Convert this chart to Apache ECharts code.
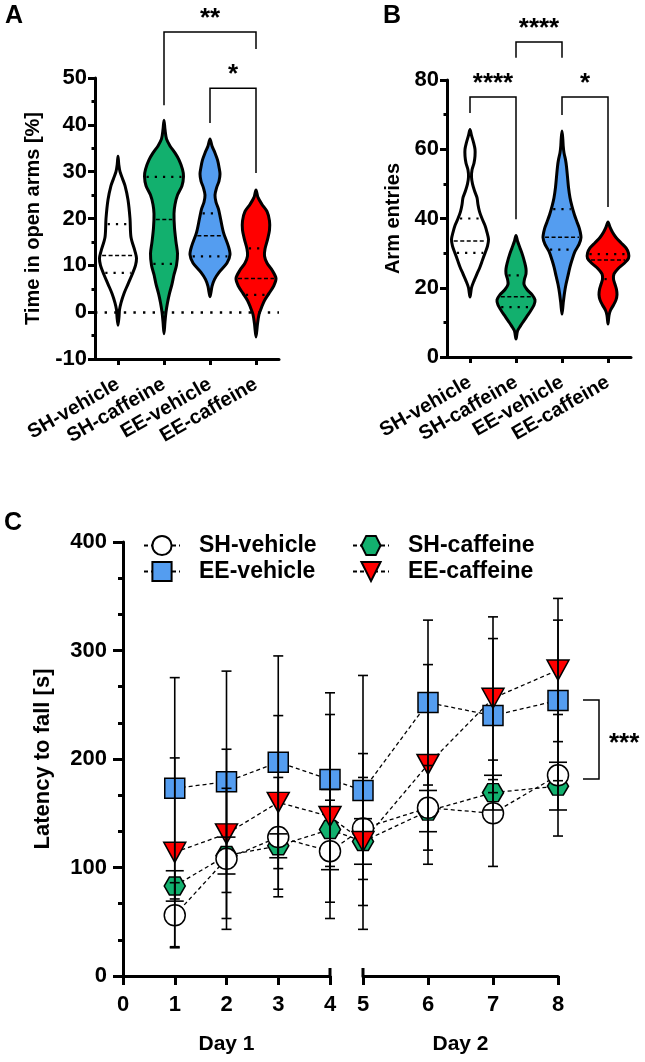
<!DOCTYPE html>
<html><head><meta charset="utf-8">
<script src="https://cdn.jsdelivr.net/npm/echarts@6/dist/echarts.min.js"></script>
<style>html,body{margin:0;padding:0;background:#fff}#c{width:645px;height:1062px}</style>
</head><body><div id="c"></div>
<script>
const FONT = '"Liberation Sans", Arial, Helvetica, sans-serif';
const groups = ['SH-vehicle', 'SH-caffeine', 'EE-vehicle', 'EE-caffeine'];
const groupColors = ['#FFFFFF', '#12B06E', '#549DF0', '#FF0000'];

// ---------- Panel A: time in open arms [%] (violin outline: value, half-width) ----------
const aShVehV = [33.3, 31.5, 30, 28.5, 27, 24, 20, 16, 13, 11.5, 10, 8, 6, 4, 2, 0.5, -1, -2.8];
const aShVehW = [0, 0.8, 2, 4.5, 7, 10, 12, 13, 17, 18.5, 17.5, 14, 10, 6, 3, 1.5, 1, 0];
const aShCafV = [41, 39, 37, 35.5, 34, 32.5, 30.5, 29, 27, 25, 23, 21, 18, 15, 12.5, 10, 8, 6, 4, 2, 0, -2, -4.6];
const aShCafW = [0, 1, 2.5, 6, 11, 15, 18.5, 19.5, 18, 13.5, 11, 10, 10.5, 12, 13.5, 12.5, 10, 8, 5.5, 3.5, 2, 1, 0];
const aEeVehV = [37, 35.5, 34, 32.5, 31, 29.5, 28, 26.5, 25, 23.5, 22, 20, 17, 14, 12.3, 10.5, 8.5, 7, 5.5, 3.3];
const aEeVehW = [0, 2, 5, 7.5, 9, 10, 9, 6.5, 5, 6, 8.5, 10.5, 13.5, 18.5, 20, 17, 9, 4.5, 2, 0];
const aEeCafV = [26.1, 24.5, 23, 21.5, 19.5, 17.5, 15.5, 13.5, 12, 10.5, 9, 7.2, 5.5, 4, 2.5, 1, -0.5, -2.5, -5.3];
const aEeCafW = [0, 2, 6, 11, 13.5, 13.5, 11.5, 9, 8.5, 11, 16, 20, 17.5, 13, 8.5, 5.5, 3, 1.5, 0];
// quartiles: [Q1, median, Q3]
const aQuartiles = [[8.4, 12.1, 18.8], [10.3, 19.8, 28.9], [11.9, 16.3, 21.1], [3.7, 7.2, 13.6]];
const aTicks = { min: -10, max: 50, step: 10 };
// significance brackets (group index from/to, bracket top, left leg end, right leg end)
const aSigFrom = [1, 2], aSigTo = [3, 3];
const aSigTop = [59.8, 47.8], aSigLeft = [44.2, 40.4], aSigRight = [56.2, 29.7];
const aSigText = ['**', '*'];

// ---------- Panel B: arm entries ----------
const bShVehV = [65.7, 64, 62, 60, 58, 56, 54, 52, 50, 48, 46, 44, 42, 40, 38, 36, 34, 32, 30, 28, 26, 24, 22, 20, 17.3];
const bShVehW = [0, 1.5, 3.5, 5, 5, 4, 2, 1.5, 2.5, 4.5, 7, 8, 9.5, 12, 15, 17, 18.5, 17.5, 15, 12.5, 10, 7, 4, 1.5, 0];
const bShCafV = [35.1, 33.5, 31.5, 29.5, 27.5, 25.5, 24, 22.5, 21, 19.5, 18, 16.5, 15, 13.5, 12, 10.5, 9, 7.5, 5.2];
const bShCafW = [0, 1.5, 4, 6.5, 8.5, 10, 10, 8.5, 8, 11, 16, 19, 18, 15, 11.5, 8, 4.5, 1.5, 0];
const bEeVehV = [65.3, 63, 61, 59, 57, 55, 52, 49, 46, 43.5, 41, 39, 37, 34.5, 32.5, 30.5, 28, 26, 23.5, 21, 18.5, 15.5, 12.4];
const bEeVehW = [0, 0.8, 1.2, 2, 3.5, 4.5, 5.5, 6.5, 8, 10, 12.5, 15, 17.5, 19, 17, 13, 10, 8, 6, 4, 2.5, 1.2, 0];
const bEeCafV = [39, 37.5, 36, 34.5, 33, 31.5, 30, 28.5, 27, 25.5, 24, 22.5, 21, 19.5, 18, 16.5, 15, 13.5, 12, 9.5];
const bEeCafW = [0, 2, 4.5, 8, 13, 18, 20.5, 20.5, 16, 10, 6, 5.5, 7, 8.5, 9, 8, 5.5, 2.5, 1, 0];
const bQuartiles = [[30.1, 33.5, 40], [14.4, 17.4, 23.6], [31, 34.6, 42.7], [22.5, 28, 29.7]];
const bTicks = { min: 0, max: 80, step: 20 };
const bSigFrom = [0, 1, 2], bSigTo = [1, 2, 3];
const bSigTop = [75.1, 91, 75.1], bSigLeft = [70.5, 86.4, 69.9], bSigRight = [39.8, 86.4, 43.3];
const bSigText = ['****', '****', '*'];

// ---------- Panel C: latency to fall [s], mean ± SD ----------
const cDay1X = [1, 2, 3, 4];
const cDay2X = [5, 6, 7, 8];
const shVehMean = [56, 108, 128, 115, 136, 155, 150, 185];
const shVehSD   = [30, 65, 55, 47, 47, 39, 49, 56];
const shCafMean = [83, 111, 120, 135, 124, 152, 169, 175];
const shCafSD   = [14, 17, 11, 37, 21, 19, 16, 22];
const eeVehMean = [173, 179, 197, 181, 171, 252, 240, 254];
const eeVehSD   = [102, 102, 98, 80, 106, 76, 71, 74];
const eeCafMean = [114, 131, 160, 147, 124, 195, 256, 282];
const eeCafSD   = [87, 78, 80, 94, 81, 92, 75, 66];
const cTicks = { min: 0, max: 400, step: 100 };
const cBreakX = [4, 5];
const cSig = [[8, 254.4, 181.6]];
const cSigText = '***';
const dayLabels = ['Day 1', 'Day 2'];

const panelLetters = ['A', 'B', 'C'];

// ---------- helpers ----------
const chart = echarts.init(document.getElementById('c'), null, { renderer: 'canvas' });

function interp(vs, ws, v) {
  for (let k = 0; k < vs.length - 1; k++) {
    const a = vs[k], b = vs[k + 1];
    if (v <= a && v >= b) { const t = (a - v) / ((a - b) || 1); return ws[k] + (ws[k + 1] - ws[k]) * t; }
  }
  return 0;
}

function violinSeries(idx, profV, profW, quart) {
  return {
    type: 'custom', xAxisIndex: idx, yAxisIndex: idx, clip: false, z: 3, silent: true,
    data: groups.map((g, i) => [i, quart[i][1]]),
    markLine: idx === 0 ? {
      silent: true, symbol: ['none', 'none'], label: { show: false }, animation: false,
      lineStyle: { color: '#000', width: 2.6, type: [2.4, 7.2] },
      data: [{ yAxis: 0 }]
    } : undefined,
    renderItem(params, api) {
      const i = api.value(0);
      const vs = profV[i], ws = profW[i];
      const band = api.size([1, 0])[0];
      const s = band / 46;
      const cx = api.coord([i, 0])[0];
      const right = [], left = [];
      for (let k = 0; k < vs.length; k++) {
        const y = api.coord([i, vs[k]])[1];
        const w = ws[k] * s;
        right.push([cx + w, y]);
        if (k > 0 && k < vs.length - 1) left.push([cx - w, y]);
      }
      left.reverse();
      const children = [{
        type: 'polygon', shape: { points: right.concat(left), smooth: 0.3 },
        style: { fill: groupColors[i], stroke: '#000', lineWidth: 3, lineJoin: 'round' }
      }];
      quart[i].forEach((q, j) => {
        const y = api.coord([i, q])[1];
        const w = Math.max(0, interp(vs, ws, q) * s - 2);
        children.push({
          type: 'line', shape: { x1: cx - w, y1: y, x2: cx + w, y2: y },
          style: { stroke: '#000', lineWidth: j === 1 ? 1.5 : 2.2, lineDash: j === 1 ? [4, 2.5] : [2.2, 6] }
        });
      });
      return { type: 'group', children };
    }
  };
}

function sigSeries(idx, from, to, top, lv, rv, texts) {
  return {
    type: 'custom', xAxisIndex: idx, yAxisIndex: idx, clip: false, z: 5, silent: true,
    data: from.map((f, k) => [f, top[k], to[k], lv[k], rv[k]]),
    renderItem(params, api) {
      const k = params.dataIndex;
      const x1 = api.value(0), x2 = api.value(2);
      const p1 = api.coord([x1, api.value(3)]);
      const t1 = api.coord([x1, api.value(1)]);
      const t2 = api.coord([x2, api.value(1)]);
      const p2 = api.coord([x2, api.value(4)]);
      return {
        type: 'group', children: [
          { type: 'polyline', shape: { points: [p1, t1, t2, p2] }, style: { stroke: '#000', lineWidth: 1.5, fill: 'none' } },
          { type: 'text', style: { text: texts[k], x: (t1[0] + t2[0]) / 2, y: t1[1] - 13, align: 'center', verticalAlign: 'middle', font: 'bold 26px ' + FONT, fill: '#000' } }
        ]
      };
    }
  };
}

const cGroups = [
  { name: 'SH-caffeine', mean: shCafMean, sd: shCafSD, symbol: 'path://M0,9 L5,0 L15,0 L20,9 L15,18 L5,18 Z', size: [21, 18], color: groupColors[1], cap: 9 },
  { name: 'EE-vehicle', mean: eeVehMean, sd: eeVehSD, symbol: 'rect', size: 20, color: groupColors[2], cap: 5 },
  { name: 'SH-vehicle', mean: shVehMean, sd: shVehSD, symbol: 'circle', size: 21, color: groupColors[0], cap: 5 },
  { name: 'EE-caffeine', mean: eeCafMean, sd: eeCafSD, symbol: 'path://M0,0 L20,0 L10,18 Z', size: [22, 20], color: groupColors[3], cap: 5 }
];

function lineSeries(g, axis, xs, offset) {
  return {
    type: 'line', name: g.name, xAxisIndex: axis, yAxisIndex: axis, z: 3,
    data: xs.map((x, k) => [x, g.mean[k + offset]]),
    symbol: g.symbol, symbolSize: g.size, symbolKeepAspect: false,
    itemStyle: { color: g.color, borderColor: '#000', borderWidth: 1.5 },
    lineStyle: { color: '#000', width: 1.3, type: [4, 3] },
    emphasis: { disabled: true }
  };
}

function errSeries(g, axis, xs, offset) {
  return {
    type: 'custom', xAxisIndex: axis, yAxisIndex: axis, z: 4, silent: true, clip: false,
    data: xs.map((x, k) => [x, g.mean[k + offset] - g.sd[k + offset], g.mean[k + offset] + g.sd[k + offset]]),
    renderItem(params, api) {
      const lo = api.coord([api.value(0), api.value(1)]);
      const hi = api.coord([api.value(0), api.value(2)]);
      const c = g.cap;
      const st = { stroke: '#000', lineWidth: 1.6 };
      return {
        type: 'group', children: [
          { type: 'line', shape: { x1: lo[0], y1: lo[1], x2: hi[0], y2: hi[1] }, style: st },
          { type: 'line', shape: { x1: lo[0] - c, y1: lo[1], x2: lo[0] + c, y2: lo[1] }, style: st },
          { type: 'line', shape: { x1: hi[0] - c, y1: hi[1], x2: hi[0] + c, y2: hi[1] }, style: st }
        ]
      };
    }
  };
}

const connector = {
  type: 'custom', xAxisIndex: 2, yAxisIndex: 2, z: 2, silent: true, clip: false,
  data: cGroups.map(g => [4, g.mean[3], g.mean[4]]),
  renderItem(params, api) {
    const p1 = api.coord([4, api.value(1)]);
    let p2 = null;
    try { p2 = chart.convertToPixel({ xAxisIndex: 3, yAxisIndex: 3 }, [5, api.value(2)]); } catch (e) { p2 = null; }
    if (!p2) return null;
    return { type: 'line', shape: { x1: p1[0], y1: p1[1], x2: p2[0], y2: p2[1] }, style: { stroke: '#000', lineWidth: 1.3, lineDash: [4, 3] } };
  }
};

// axis-break marks: tick at 4 (end of Day 1) and 5 (start of Day 2) extends above the axis line
function breakSeries(axis, x) {
  return {
    type: 'custom', xAxisIndex: axis, yAxisIndex: axis, z: 6, silent: true, clip: false,
    data: [[x, 0]],
    renderItem(params, api) {
      const p = api.coord([api.value(0), api.value(1)]);
      return { type: 'line', shape: { x1: p[0], y1: p[1] - 8, x2: p[0], y2: p[1] }, style: { stroke: '#000', lineWidth: 3 } };
    }
  };
}

const cSigSeries = {
  type: 'custom', xAxisIndex: 3, yAxisIndex: 3, z: 5, silent: true, clip: false,
  data: cSig,
  renderItem(params, api) {
    const top = api.coord([api.value(0), api.value(1)]);
    const bot = api.coord([api.value(0), api.value(2)]);
    const xl = top[0] + 25, xr = top[0] + 41;
    return {
      type: 'group', children: [
        { type: 'polyline', shape: { points: [[xl, top[1]], [xr, top[1]], [xr, bot[1]], [xl, bot[1]]] }, style: { stroke: '#000', lineWidth: 1.5, fill: 'none' } },
        { type: 'text', style: { text: cSigText, x: xr + 10, y: (top[1] + bot[1]) / 2 + 4, align: 'left', verticalAlign: 'middle', font: 'bold 26px ' + FONT, fill: '#000' } }
      ]
    };
  }
};

// ---------- axes ----------
const axisLineStyle = { color: '#000', width: 3 };
function catAxis(gi) {
  return {
    type: 'category', gridIndex: gi, data: groups, boundaryGap: true,
    axisLine: { show: true, onZero: false, lineStyle: axisLineStyle },
    axisTick: { show: true, alignWithLabel: true, length: 6, lineStyle: { color: '#000', width: 3 } },
    axisLabel: { interval: 0, rotate: 30, margin: 24, color: '#000', fontWeight: 'bold', fontSize: 20, fontFamily: FONT },
    splitLine: { show: false }
  };
}
function valYAxis(gi, t, name, gap, fs, minorSplit, labelFs, tickLen, margin) {
  return {
    type: 'value', gridIndex: gi, min: t.min, max: t.max, interval: t.step,
    name, nameLocation: 'middle', nameGap: gap, nameRotate: 90,
    nameTextStyle: { color: '#000', fontWeight: 'bold', fontSize: fs, fontFamily: FONT },
    axisLine: { show: true, lineStyle: axisLineStyle },
    axisTick: { show: true, length: tickLen, lineStyle: { color: '#000', width: 3 } },
    minorTick: { show: true, splitNumber: minorSplit, length: tickLen * 0.5, lineStyle: { color: '#000', width: 3 } },
    axisLabel: { color: '#000', fontWeight: 'bold', fontSize: labelFs, fontFamily: FONT, margin },
    splitLine: { show: false }, minorSplitLine: { show: false }
  };
}
function dayAxis(gi, min, max, name) {
  return {
    type: 'value', gridIndex: gi, min, max, interval: 1,
    name, nameLocation: 'middle', nameGap: 58,
    nameTextStyle: { color: '#000', fontWeight: 'bold', fontSize: 21, fontFamily: FONT },
    axisLine: { show: true, onZero: false, lineStyle: axisLineStyle },
    axisTick: { show: true, length: 9, lineStyle: { color: '#000', width: 3 } },
    axisLabel: { color: '#000', fontWeight: 'bold', fontSize: 22, fontFamily: FONT, margin: 18, showMinLabel: true, showMaxLabel: true },
    splitLine: { show: false }
  };
}

function legendFor(name, left, top) {
  return {
    data: [name], left, top, padding: 0, orient: 'horizontal', selectedMode: false,
    itemWidth: 36, itemHeight: 24,
    textStyle: { color: '#000', fontWeight: 'bold', fontSize: 23, fontFamily: FONT, padding: [0, 0, 0, 14] }
  };
}

const series = [
  violinSeries(0, [aShVehV, aShCafV, aEeVehV, aEeCafV], [aShVehW, aShCafW, aEeVehW, aEeCafW], aQuartiles),
  sigSeries(0, aSigFrom, aSigTo, aSigTop, aSigLeft, aSigRight, aSigText),
  violinSeries(1, [bShVehV, bShCafV, bEeVehV, bEeCafV], [bShVehW, bShCafW, bEeVehW, bEeCafW], bQuartiles),
  sigSeries(1, bSigFrom, bSigTo, bSigTop, bSigLeft, bSigRight, bSigText),
  connector,
  breakSeries(2, cBreakX[0]),
  breakSeries(3, cBreakX[1])
];
cGroups.forEach(g => {
  series.push(lineSeries(g, 2, cDay1X, 0));
  series.push(lineSeries(g, 3, cDay2X, 4));
});
cGroups.forEach(g => {
  series.push(errSeries(g, 2, cDay1X, 0));
  series.push(errSeries(g, 3, cDay2X, 4));
});
series.push(cSigSeries);

const option = {
  animation: false,
  backgroundColor: '#fff',
  textStyle: { fontFamily: FONT },
  grid: [
    { left: 95, top: 78, width: 184, height: 281, outerBoundsMode: 'none', containLabel: false },
    { left: 447, top: 80, width: 184, height: 277, outerBoundsMode: 'none', containLabel: false },
    { left: 123, top: 542, width: 207, height: 434, outerBoundsMode: 'none', containLabel: false },
    { left: 363, top: 542, width: 195, height: 434, outerBoundsMode: 'none', containLabel: false }
  ],
  xAxis: [catAxis(0), catAxis(1), dayAxis(2, 0, 4, dayLabels[0]), dayAxis(3, 5, 8, dayLabels[1])],
  yAxis: [
    valYAxis(0, aTicks, 'Time in open arms [%]', 52, 20, 2, 22, 7, 8),
    valYAxis(1, bTicks, 'Arm entries', 44, 20, 2, 22, 7, 8),
    valYAxis(2, cTicks, 'Latency to fall [s]', 69, 22, 3, 22, 10, 16),
    { type: 'value', gridIndex: 3, min: cTicks.min, max: cTicks.max, interval: cTicks.step, show: false }
  ],
  legend: [
    legendFor('SH-vehicle', 143, 534),
    legendFor('SH-caffeine', 352, 534),
    legendFor('EE-vehicle', 143, 560),
    legendFor('EE-caffeine', 352, 560)
  ],
  graphic: [
    { type: 'text', x: 5, y: 16.5, style: { text: panelLetters[0], font: 'bold 25px ' + FONT, fill: '#000', verticalAlign: 'middle' } },
    { type: 'text', x: 383, y: 16.5, style: { text: panelLetters[1], font: 'bold 25px ' + FONT, fill: '#000', verticalAlign: 'middle' } },
    { type: 'text', x: 4, y: 523, style: { text: panelLetters[2], font: 'bold 25px ' + FONT, fill: '#000', verticalAlign: 'middle' } }
  ],
  series
};
chart.setOption(option);
</script>
</body></html>
